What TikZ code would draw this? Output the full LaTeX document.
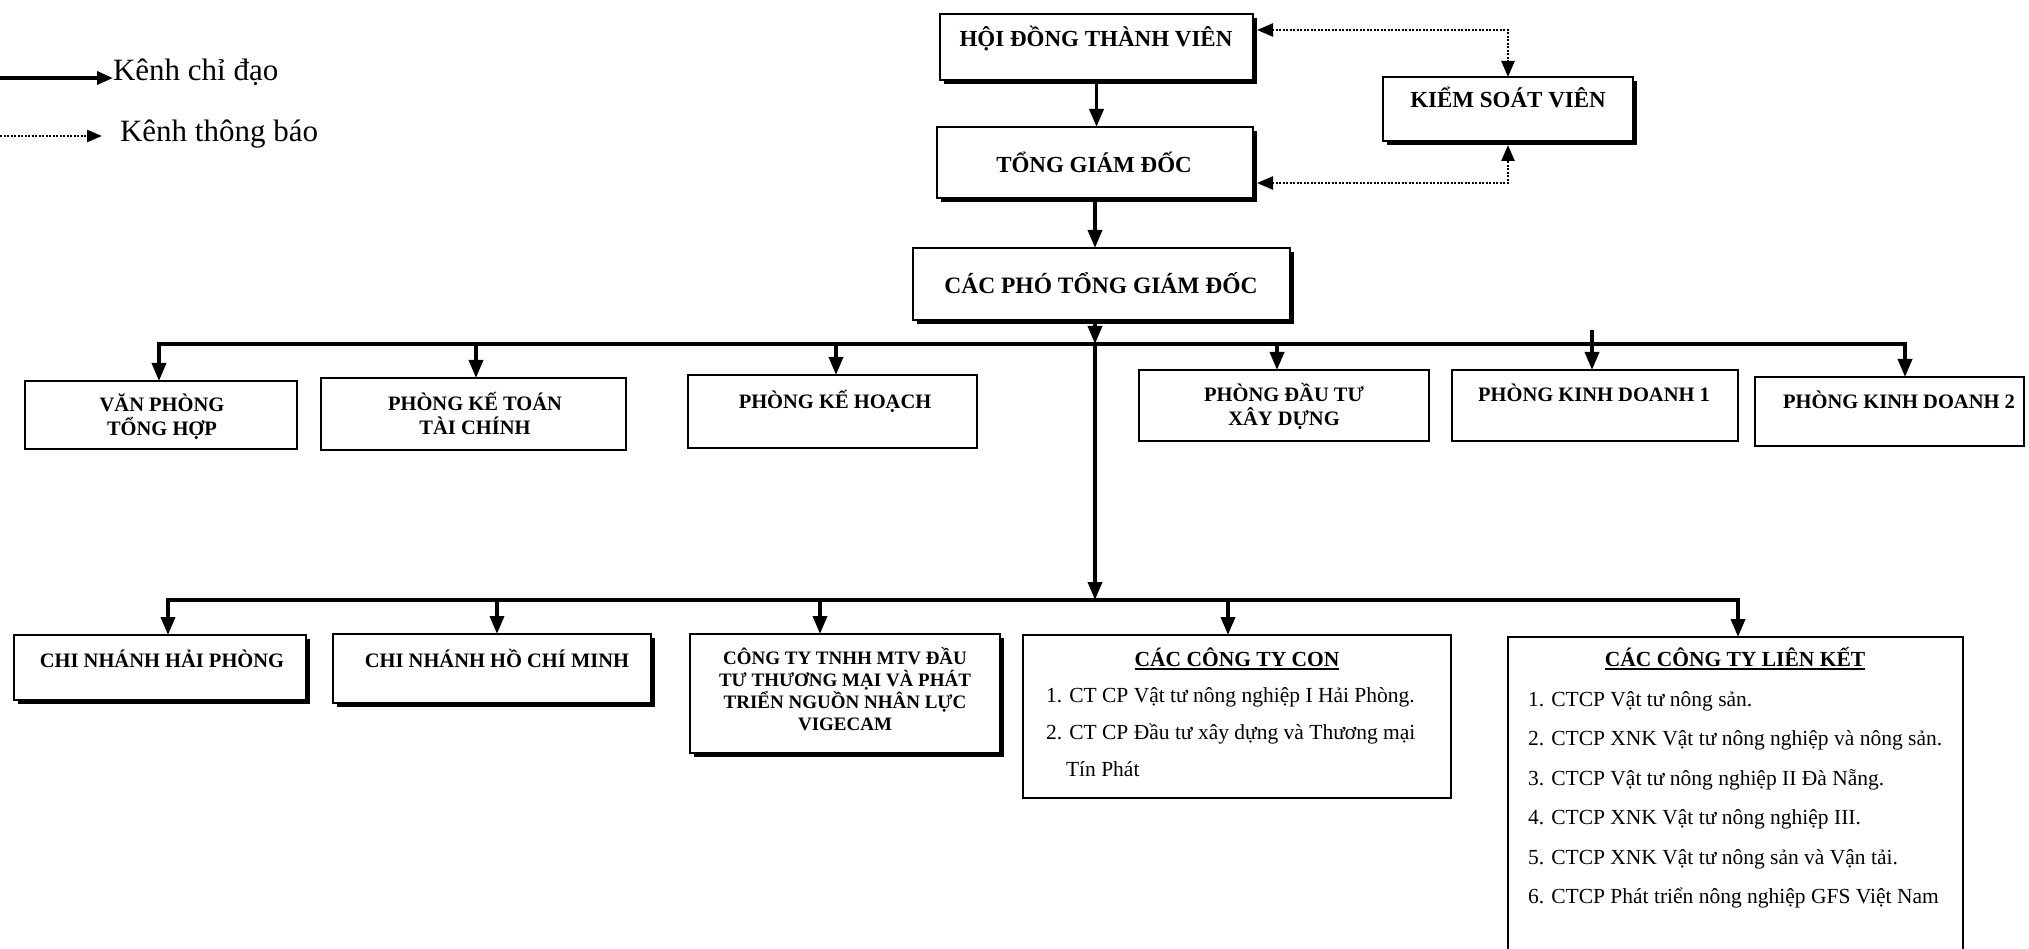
\documentclass[tikz,border=0pt]{standalone}
\usepackage{fontspec}
\setmainfont{Liberation Serif}
\usetikzlibrary{arrows.meta,shadows}
\newcommand\mkbox[6]{%
  \pgfmathsetmacro\bw{#4-#2}\pgfmathsetmacro\bh{#5-#3}%
  \node[#6, anchor=north west, minimum width=\bw pt, minimum height=\bh pt] (#1) at (#2,#3) {};}
\newcommand\myul[1]{\leavevmode\setbox0=\hbox{#1}\rlap{\rule[-3.5pt]{\wd0}{1.8pt}}\box0}
\begin{document}
\begin{tikzpicture}[x=1pt,y=-1pt,
  box/.style={draw=black, line width=2.4pt, fill=white, inner sep=0pt, outer sep=0pt},
  sbox/.style={box, drop shadow={shadow xshift=4pt, shadow yshift=-4pt, fill=black, opacity=1}},
  lkbox/.style={inner sep=0pt, outer sep=0pt},
  conn/.style={line width=3.6pt, line cap=rect},
  arr/.style={line width=3.6pt, -{Triangle[length=18pt,width=14pt]}},
  dotarr/.style={line width=2.4pt, dash pattern=on 2pt off 1.5pt,
     {Triangle[length=16pt,width=13pt]}-{Triangle[length=16pt,width=13pt]}},
  legdot/.style={line width=2.4pt, dash pattern=on 2pt off 1.5pt, -{Triangle[length=15pt,width=12pt]}},
  legarr/.style={line width=3.6pt, -{Triangle[length=16pt,width=13pt]}},
  t/.style={inner sep=0pt, outer sep=0pt, anchor=base},
  bigt/.style={t, font=\fontsize{23}{26}\selectfont\bfseries},
  phot/.style={t, font=\fontsize{23.5}{26}\selectfont\bfseries},
  midt/.style={t, font=\fontsize{20.5}{22}\selectfont\bfseries},
  vigt/.style={t, font=\fontsize{19}{21}\selectfont\bfseries},
  hdt/.style={t, font=\fontsize{21.5}{24}\selectfont\bfseries},
  regt/.style={t, anchor=base west, font=\fontsize{21.5}{24}\selectfont},
  legt/.style={t, anchor=base west, font=\fontsize{31}{34}\selectfont}
]
\useasboundingbox (0,0) rectangle (2029,949);

% legend
\coordinate (l1) at (0,78);
\coordinate (l2) at (0,136);
\node[legt] (leg1) at (113,81) {Kênh chỉ đạo};
\node[legt] (leg2) at (120,142) {Kênh thông báo};
\draw[legarr] (l1) -- (leg1.west |- l1);
\draw[legdot] (l2) -- ([xshift=-18pt]leg2.west |- l2);

% top boxes
\mkbox{hdtv}{940}{14}{1253}{80}{sbox}
\mkbox{tgd}{937}{127}{1253}{198}{sbox}
\mkbox{ksv}{1383}{77}{1633}{141}{sbox}
\mkbox{pho}{913}{248}{1290}{320}{sbox}
\node[bigt] (hdtvt) at (1096,46.5) {HỘI ĐỒNG THÀNH VIÊN};
\node[bigt] (tgdt) at (1094,173) {TỔNG GIÁM ĐỐC};
\node[bigt] (ksvt) at (1508,108) {KIỂM SOÁT VIÊN};
\node[phot] (phot) at (1101,294) {CÁC PHÓ TỔNG GIÁM ĐỐC};

\draw[arr] (hdtv.south) -- (tgd.north -| hdtv.south);
\draw[arr] (tgd.south) -- (pho.north -| tgd.south);
\draw[dotarr] ([xshift=4pt]hdtv.east |- 0,30) -| (ksv.north);
\draw[dotarr] ([xshift=4pt]tgd.east |- 0,183) -| ([yshift=-4pt]ksv.south);

% row 1 boxes
\mkbox{vp}{25}{381}{297}{449}{box}
\mkbox{kt}{321}{378}{626}{450}{box}
\mkbox{kh}{688}{375}{977}{448}{box}
\mkbox{dt}{1139}{370}{1429}{441}{box}
\mkbox{kdi}{1452}{370}{1738}{441}{box}
\mkbox{kdii}{1755}{377}{2024}{446}{box}
\node[midt] (vp1) at (162,411) {VĂN PHÒNG};
\node[midt] (vp2) at (162,435) {TỔNG HỢP};
\node[midt] (kt1) at (475,410) {PHÒNG KẾ TOÁN};
\node[midt] (kt2) at (475,434) {TÀI CHÍNH};
\node[midt] (kh1) at (835,408) {PHÒNG KẾ HOẠCH};
\node[midt] (dt1) at (1284,401) {PHÒNG ĐẦU TƯ};
\node[midt] (dt2) at (1284,425) {XÂY DỰNG};
\node[midt] (kd1t) at (1594,402) {PHÒNG KINH DOANH 1};
\node[midt] (kd2t) at (1899,408) {PHÒNG KINH DOANH 2};

% bus 1
\coordinate (ba) at (1095,344);
\coordinate (da) at (159,344);
\coordinate (db) at (476,344);
\coordinate (dc) at (836,344);
\coordinate (dd) at (1277,344);
\coordinate (de) at (1592,344);
\coordinate (df) at (1905,344);
\draw[conn] (da) -- (df);
\draw[arr] (pho.south -| ba) -- (ba);
\draw[arr] (da) -- (vp.north -| da);
\draw[arr] (db) -- (kt.north -| db);
\draw[arr] (dc) -- (kh.north -| dc);
\draw[arr] (dd) -- (dt.north -| dd);
\draw[arr] ([yshift=14pt]de) -- (kdi.north -| de);
\draw[arr] (df) -- (kdii.north -| df);

% bus 2
\coordinate (bb) at (1095,600);
\coordinate (ea) at (168,600);
\coordinate (eb) at (497,600);
\coordinate (ec) at (820,600);
\coordinate (ed) at (1228,600);
\coordinate (ee) at (1738,600);
\draw[arr] (ba) -- (bb);
\draw[conn] (ea) -- (ee);

% row 2 boxes
\mkbox{cnhp}{14}{635}{306}{700}{sbox}
\mkbox{cnhcm}{333}{634}{651}{703}{sbox}
\mkbox{vig}{690}{634}{1000}{753}{sbox}
\mkbox{con}{1023}{635}{1451}{798}{box}
\mkbox{lk}{1508}{637}{1963}{960}{lkbox}
\draw[line width=2.4pt] (lk.south west) |- (lk.north east) -- (lk.south east);

\draw[arr] (ea) -- (cnhp.north -| ea);
\draw[arr] (eb) -- (cnhcm.north -| eb);
\draw[arr] (ec) -- (vig.north -| ec);
\draw[arr] (ed) -- (con.north -| ed);
\draw[arr] (ee) -- (lk.north -| ee);

\node[midt] (cnhpt) at (162,667) {CHI NHÁNH HẢI PHÒNG};
\node[midt] (cnhcmt) at (497,667) {CHI NHÁNH HỒ CHÍ MINH};
\node[vigt] (vig1) at (845,664) {CÔNG TY TNHH MTV ĐẦU};
\node[vigt] (vig2) at (845,686) {TƯ THƯƠNG MẠI VÀ PHÁT};
\node[vigt] (vig3) at (845,708) {TRIỂN NGUỒN NHÂN LỰC};
\node[vigt] (vig4) at (845,730) {VIGECAM};

\node[hdt] (cont) at (1237,666) {\myul{CÁC CÔNG TY CON}};
\node[regt] (con1) at (1046,702) {1. CT CP Vật tư nông nghiệp I Hải Phòng.};
\node[regt] (con2) at (1046,739) {2. CT CP Đầu tư xây dựng và Thương mại};
\node[regt] (con3) at (1066,776) {Tín Phát};

\node[hdt] (lkt) at (1735,666) {\myul{CÁC CÔNG TY LIÊN KẾT}};
\node[regt] (lk1) at (1528,706) {1. CTCP Vật tư nông sản.};
\node[regt] (lk2) at (1528,745.5) {2. CTCP XNK Vật tư nông nghiệp và nông sản.};
\node[regt] (lk3) at (1528,785) {3. CTCP Vật tư nông nghiệp II Đà Nẵng.};
\node[regt] (lk4) at (1528,824.5) {4. CTCP XNK Vật tư nông nghiệp III.};
\node[regt] (lk5) at (1528,864) {5. CTCP XNK Vật tư nông sản và Vận tải.};
\node[regt] (lk6) at (1528,903.5) {6. CTCP Phát triển nông nghiệp GFS Việt Nam};
\end{tikzpicture}
\end{document}
